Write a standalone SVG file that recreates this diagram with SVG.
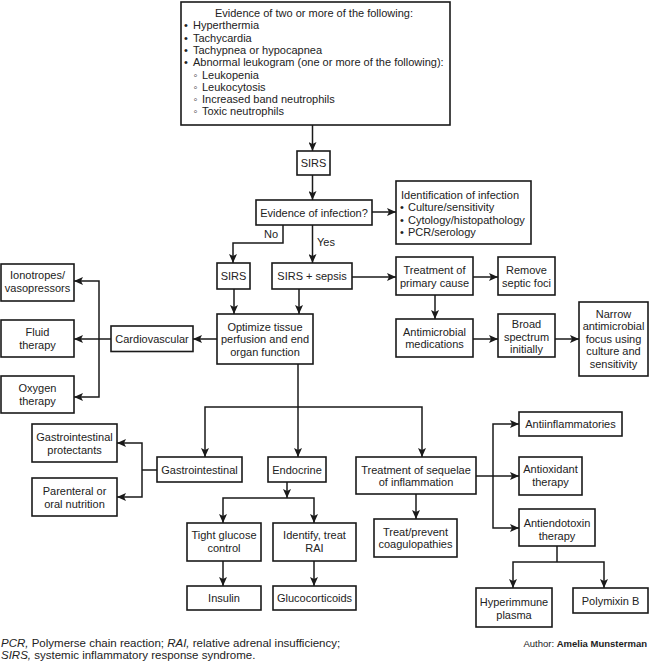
<svg xmlns="http://www.w3.org/2000/svg" width="650" height="661" viewBox="0 0 650 661">
<defs>
<marker id="ah" markerWidth="10" markerHeight="8" refX="9" refY="4" orient="auto" markerUnits="userSpaceOnUse">
<path d="M0,0 L9,4 L0,8 L2,4 z" fill="#1a1a1a"/>
</marker>
<style>
rect{fill:#fff;stroke:#1a1a1a;stroke-width:1.6}
text{font-family:"Liberation Sans",Arial,"DejaVu Sans",sans-serif;font-size:11px;fill:#222}
.c{text-anchor:middle}
#connectors path,#connectors line{fill:none;stroke:#1a1a1a;stroke-width:1.5}
.a{marker-end:url(#ah)}
.cap{font-size:11.5px}
</style>
</defs>
<rect x="0" y="0" width="650" height="661" style="fill:#fff;stroke:none"/>
<g id="connectors">
<line class="a" x1="312.5" y1="125" x2="312.5" y2="151"/>
<line class="a" x1="312.5" y1="175" x2="312.5" y2="200"/>
<line class="a" x1="372" y1="212" x2="396" y2="212"/>
<path class="a" d="M283,225 V243 H233 V263"/>
<line class="a" x1="312.5" y1="225" x2="312.5" y2="263"/>
<line class="a" x1="234" y1="289" x2="234" y2="314"/>
<line class="a" x1="299" y1="289" x2="299" y2="314"/>
<line class="a" x1="352" y1="277" x2="396" y2="277"/>
<line class="a" x1="473" y1="277" x2="498" y2="277"/>
<line class="a" x1="435" y1="295" x2="435" y2="319"/>
<line class="a" x1="473" y1="339" x2="498" y2="339"/>
<line class="a" x1="555" y1="339" x2="579" y2="339"/>
<line class="a" x1="217" y1="339" x2="193" y2="339"/>
<line class="a" x1="111" y1="339" x2="74" y2="339"/>
<path class="a" d="M99,339 V281 H74"/>
<path class="a" d="M99,339 V397 H74"/>
<line x1="298" y1="364" x2="298" y2="407"/>
<path class="a" d="M298,407 H205 V457"/>
<path class="a" d="M298,407 H422 V457"/>
<line class="a" x1="298" y1="407" x2="298" y2="457"/>
<line x1="157" y1="470" x2="142" y2="470"/>
<path class="a" d="M142,470 V443 H117"/>
<path class="a" d="M142,470 V497 H117"/>
<line class="a" x1="287" y1="482" x2="287" y2="498"/>
<path class="a" d="M287,498 H223 V523"/>
<path class="a" d="M287,498 H314 V523"/>
<line class="a" x1="223" y1="561" x2="223" y2="586"/>
<line class="a" x1="314" y1="561" x2="314" y2="586"/>
<line class="a" x1="416" y1="494" x2="416" y2="519"/>
<line class="a" x1="476" y1="476" x2="519" y2="476"/>
<path class="a" d="M493,476 V424 H519"/>
<path class="a" d="M493,476 V528 H519"/>
<line x1="557" y1="546" x2="557" y2="562"/>
<path class="a" d="M557,562 H513 V588"/>
<path class="a" d="M557,562 H604 V588"/>
</g>
<g id="criteria">
<rect x="181" y="2" width="269" height="123"/>
<text class="c" x="314" y="17">Evidence of two or more of the following:</text>
<text x="184" y="29.3">•</text><text x="193" y="29.3">Hyperthermia</text>
<text x="184" y="41.6">•</text><text x="193" y="41.6">Tachycardia</text>
<text x="184" y="53.9">•</text><text x="193" y="53.9">Tachypnea or hypocapnea</text>
<text x="184" y="66.2">•</text><text x="193" y="66.2">Abnormal leukogram (one or more of the following):</text>
<text x="193.5" y="78.5">◦</text><text x="202" y="78.5">Leukopenia</text>
<text x="193.5" y="90.8">◦</text><text x="202" y="90.8">Leukocytosis</text>
<text x="193.5" y="103.1">◦</text><text x="202" y="103.1">Increased band neutrophils</text>
<text x="193.5" y="115.4">◦</text><text x="202" y="115.4">Toxic neutrophils</text>
</g>
<g id="sirs1"><rect x="297" y="151" width="33" height="24"/><text class="c" x="313.5" y="167">SIRS</text></g>
<g id="evidence"><rect x="256" y="200" width="116" height="25"/><text class="c" x="314" y="216.5">Evidence of infection?</text></g>
<g id="labels"><text x="264" y="238">No</text><text x="317" y="246">Yes</text></g>
<g id="identification">
<rect x="396" y="181" width="135" height="63"/>
<text x="401" y="198.5">Identification of infection</text>
<text x="400" y="211">•</text><text x="408" y="211">Culture/sensitivity</text>
<text x="400" y="223.5">•</text><text x="408" y="223.5">Cytology/histopathology</text>
<text x="400" y="236">•</text><text x="408" y="236">PCR/serology</text>
</g>
<g id="sirs2"><rect x="217" y="263" width="33" height="26"/><text class="c" x="233.5" y="280">SIRS</text></g>
<g id="sepsis"><rect x="272" y="263" width="80" height="26"/><text class="c" x="312" y="280">SIRS + sepsis</text></g>
<g id="primary"><rect x="396" y="257" width="77" height="38"/><text class="c" x="434.5" y="274">Treatment of</text><text class="c" x="434.5" y="286.5">primary cause</text></g>
<g id="remove"><rect x="498" y="257" width="57" height="38"/><text class="c" x="526.5" y="274">Remove</text><text class="c" x="526.5" y="286.5">septic foci</text></g>
<g id="antimicrobial"><rect x="396" y="319" width="77" height="38"/><text class="c" x="434.5" y="335.7">Antimicrobial</text><text class="c" x="434.5" y="348.3">medications</text></g>
<g id="broad"><rect x="498" y="314" width="57" height="43"/><text class="c" x="526.5" y="328">Broad</text><text class="c" x="526.5" y="340.5">spectrum</text><text class="c" x="526.5" y="353">initially</text></g>
<g id="narrow"><rect x="579" y="302" width="69" height="74"/><text class="c" x="613.5" y="317.5">Narrow</text><text class="c" x="613.5" y="330">antimicrobial</text><text class="c" x="613.5" y="342.5">focus using</text><text class="c" x="613.5" y="355">culture and</text><text class="c" x="613.5" y="367.5">sensitivity</text></g>
<g id="optimize"><rect x="217" y="314" width="96" height="50"/><text class="c" x="265" y="330.7">Optimize tissue</text><text class="c" x="265" y="343.2">perfusion and end</text><text class="c" x="265" y="355.5">organ function</text></g>
<g id="cardio"><rect x="111" y="326" width="82" height="25.5"/><text class="c" x="152" y="343">Cardiovascular</text></g>
<g id="ionotropes"><rect x="1" y="264" width="73" height="37"/><text class="c" x="37.5" y="279">Ionotropes/</text><text class="c" x="37.5" y="292">vasopressors</text></g>
<g id="fluid"><rect x="1" y="320" width="73" height="37"/><text class="c" x="37.5" y="335.5">Fluid</text><text class="c" x="37.5" y="348.5">therapy</text></g>
<g id="oxygen"><rect x="1" y="376" width="73" height="37"/><text class="c" x="37.5" y="391.5">Oxygen</text><text class="c" x="37.5" y="404.5">therapy</text></g>
<g id="gi"><rect x="157" y="457" width="85" height="25"/><text class="c" x="199.5" y="473.5">Gastrointestinal</text></g>
<g id="endocrine"><rect x="268" y="457" width="58" height="25"/><text class="c" x="297" y="473.5">Endocrine</text></g>
<g id="giprot"><rect x="32" y="424" width="85" height="38"/><text class="c" x="74.5" y="440.5">Gastrointestinal</text><text class="c" x="74.5" y="453.5">protectants</text></g>
<g id="nutrition"><rect x="32" y="478" width="85" height="38"/><text class="c" x="74.5" y="494.5">Parenteral or</text><text class="c" x="74.5" y="507.5">oral nutrition</text></g>
<g id="glucose"><rect x="187" y="523" width="74" height="38"/><text class="c" x="224" y="539">Tight glucose</text><text class="c" x="224" y="552">control</text></g>
<g id="rai"><rect x="273" y="523" width="83" height="38"/><text class="c" x="314.5" y="539">Identify, treat</text><text class="c" x="314.5" y="552">RAI</text></g>
<g id="insulin"><rect x="187" y="586" width="74" height="24"/><text class="c" x="224" y="602">Insulin</text></g>
<g id="gluco"><rect x="273" y="586" width="83" height="24"/><text class="c" x="314.5" y="602">Glucocorticoids</text></g>
<g id="sequelae"><rect x="356" y="457" width="120" height="37"/><text class="c" x="416" y="474">Treatment of sequelae</text><text class="c" x="416" y="486">of inflammation</text></g>
<g id="coag"><rect x="374" y="519" width="83" height="38"/><text class="c" x="415.5" y="535.7">Treat/prevent</text><text class="c" x="415.5" y="548.3">coagulopathies</text></g>
<g id="antiinfl"><rect x="519" y="412" width="103" height="24"/><text class="c" x="570.5" y="428">Antiinflammatories</text></g>
<g id="antiox"><rect x="519" y="457" width="63" height="38"/><text class="c" x="550.5" y="473.3">Antioxidant</text><text class="c" x="550.5" y="485.7">therapy</text></g>
<g id="antiendo"><rect x="519" y="509" width="76" height="37"/><text class="c" x="557" y="527.3">Antiendotoxin</text><text class="c" x="557" y="540">therapy</text></g>
<g id="hyperimmune"><rect x="476" y="588" width="76" height="39"/><text class="c" x="514" y="605.5">Hyperimmune</text><text class="c" x="514" y="618.5">plasma</text></g>
<g id="polymixin"><rect x="573" y="588" width="75" height="25"/><text class="c" x="610.5" y="605">Polymixin B</text></g>
<g id="caption">
<text class="cap" x="1" y="646.5"><tspan font-style="italic">PCR,</tspan> Polymerse chain reaction; <tspan font-style="italic">RAI,</tspan> relative adrenal insufficiency;</text>
<text class="cap" x="1" y="658.5"><tspan font-style="italic">SIRS,</tspan> systemic inflammatory response syndrome.</text>
<text x="647" y="646.5" style="font-size:9.5px;text-anchor:end">Author: <tspan font-weight="bold">Amelia Munsterman</tspan></text>
</g>
</svg>
